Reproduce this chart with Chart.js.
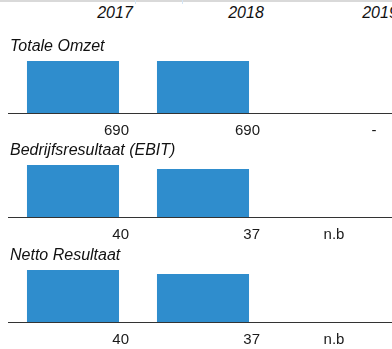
<!DOCTYPE html>
<html>
<head>
<meta charset="utf-8">
<script src="https://cdn.jsdelivr.net/npm/chart.js@4.4.1/dist/chart.umd.min.js"></script>
<style>
  html, body { margin: 0; padding: 0; background: #fff; overflow: hidden; }
  #wrap { position: relative; width: 392px; height: 349px; overflow: hidden;
          font-family: "Liberation Sans", Arial, sans-serif; }
  .topline { position: absolute; left: 0; top: 0; width: 392px; height: 2px; background: #d9d9d9; }
  .sel { position: absolute; top: 0; left: 135px; width: 46px; height: 4px;
         border-left: 1px solid #d3e5f5; border-right: 1px solid #d3e5f5; }
  .year { position: absolute; top: 5px; width: 80px; margin-left: -40px; text-align: center;
          font-style: italic; font-size: 16px; line-height: 16px; color: #111; }
  .panel { position: absolute; left: 0; }
</style>
</head>
<body>
<div id="wrap">
  <div class="topline"></div>
  <div class="sel"></div>
  <div id="years"></div>
  <canvas class="panel" id="p0" width="398" height="112" style="top:30px"></canvas>
  <canvas class="panel" id="p1" width="398" height="112" style="top:134px"></canvas>
  <canvas class="panel" id="p2" width="398" height="112" style="top:239px"></canvas>
</div>
<script>
// ── Data ────────────────────────────────────────────────────────────
const years     = ['2017', '2018', '2019'];
const titles    = ['Totale Omzet', 'Bedrijfsresultaat (EBIT)', 'Netto Resultaat'];
const omzet     = [690, 690, null];
const ebit      = [40, 37, null];
const netto     = [40, 37, null];
const omzetText = ['690', '690', '-'];
const ebitText  = ['40', '37', 'n.b'];
const nettoText = ['40', '37', 'n.b'];

// ── Layout (table-like columns next to the bars) ────────────────────
const yearX       = [115, 246, 380];
const valueAnchor = [{ dx: 56, align: 'right' }, { dx: 57, align: 'right' }, { dx: 1, align: 'center' }];
const dashAnchor  = { dx: 41, align: 'center' };
const FONT        = '"Liberation Sans", Arial, sans-serif';

const yearBox = document.getElementById('years');
years.forEach((y, i) => {
    const el = document.createElement('div');
    el.className = 'year';
    el.style.left = yearX[i] + 'px';
    el.textContent = y;
    yearBox.appendChild(el);
});

// titel + waarden onder de as
const panelText = {
    id: 'panelText',
    afterDraw(chart, args, opts) {
        const ctx  = chart.ctx;
        const x    = chart.scales.x;
        const area = chart.chartArea;
        ctx.save();
        ctx.fillStyle = '#111';
        ctx.textBaseline = 'alphabetic';
        ctx.textAlign = 'left';
        ctx.font = 'italic 16px ' + FONT;
        ctx.fillText(opts.title, 10, 21);
        ctx.font = '15px ' + FONT;
        ctx.fillStyle = '#1a1a1a';
        opts.values.forEach((t, i) => {
            const a = t === '-' ? dashAnchor : valueAnchor[i];
            ctx.textAlign = a.align;
            ctx.fillText(t, x.getPixelForValue(i) + a.dx, area.bottom + 22);
        });
        ctx.restore();
    }
};

function makePanel(id, title, values, texts) {
    new Chart(document.getElementById(id), {
        type: 'bar',
        data: {
            labels: years,
            datasets: [{
                data: values,
                backgroundColor: '#2f8dcd',
                borderWidth: 0,
                categoryPercentage: 1,
                barPercentage: 0.708
            }]
        },
        options: {
            responsive: false,
            devicePixelRatio: 1,
            animation: false,
            events: [],
            layout: { padding: { left: 8, right: 0, top: 31, bottom: 29 } },
            plugins: {
                legend: { display: false },
                tooltip: { enabled: false },
                panelText: { title, values: texts }
            },
            scales: {
                x: {
                    ticks: { display: false },
                    grid: { display: false, drawTicks: false },
                    border: { display: true, color: '#333', width: 1 }
                },
                y: {
                    display: false,
                    min: 0,
                    max: Math.max(...values.filter(v => v !== null))
                }
            }
        },
        plugins: [panelText]
    });
}

makePanel('p0', titles[0], omzet, omzetText);
makePanel('p1', titles[1], ebit, ebitText);
makePanel('p2', titles[2], netto, nettoText);
</script>
</body>
</html>
